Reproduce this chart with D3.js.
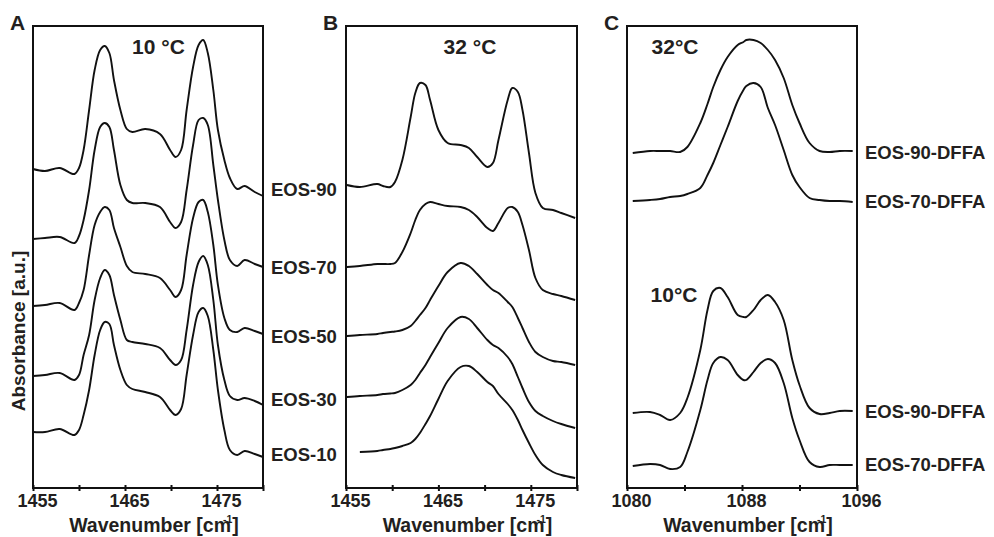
<!DOCTYPE html>
<html>
<head>
<meta charset="utf-8">
<script src="https://cdn.jsdelivr.net/npm/d3@7"></script>
<style>
  body { margin: 0; background: #fff; }
  svg text { font-family: "Liberation Sans", Arial, sans-serif; font-weight: bold; fill: #231f20; }
</style>
</head>
<body>
<div id="vis"></div>
<script>
// ---- panel A : CH2 scissoring, 10 °C ----
const wnA = [1455, 1456.3, 1457.9, 1459.5, 1460.0, 1460.5, 1461.1, 1461.7, 1462.3, 1462.8, 1463.3,
  1463.8, 1464.5, 1465.2, 1465.8, 1467.2, 1468.8, 1469.9, 1470.5, 1471.1, 1471.7, 1472.4, 1473.0,
  1473.5, 1474.0, 1474.6, 1475.1, 1475.8, 1476.4, 1477.2, 1478.0, 1479.1, 1480.0];
const eos90A = [3.19, 3.17, 3.20, 3.14, 3.20, 3.38, 3.78, 4.18, 4.38, 4.42, 4.35, 4.08, 3.78, 3.59, 3.56, 3.59, 3.54,
  3.38, 3.31, 3.38, 3.78, 4.21, 4.43, 4.48, 4.35, 3.98, 3.58, 3.28, 3.10, 2.99, 3.02, 2.96, 2.92];
const eos70A = [2.49, 2.50, 2.51, 2.45, 2.52, 2.68, 2.98, 3.38, 3.61, 3.65, 3.61, 3.38, 3.03, 2.88, 2.85, 2.85, 2.81,
  2.66, 2.60, 2.66, 2.98, 3.43, 3.68, 3.70, 3.63, 3.23, 2.88, 2.48, 2.28, 2.22, 2.28, 2.24, 2.21];
const eos50A = [1.82, 1.83, 1.85, 1.78, 1.85, 1.98, 2.33, 2.63, 2.76, 2.81, 2.78, 2.60, 2.41, 2.22, 2.16, 2.14, 2.10,
  1.98, 1.91, 1.98, 2.33, 2.70, 2.86, 2.88, 2.76, 2.43, 2.03, 1.70, 1.58, 1.56, 1.60, 1.57, 1.54];
const eos30A = [1.12, 1.13, 1.15, 1.08, 1.13, 1.33, 1.53, 1.88, 2.10, 2.18, 2.13, 1.93, 1.68, 1.48, 1.46, 1.44, 1.40,
  1.28, 1.23, 1.28, 1.58, 2.03, 2.26, 2.32, 2.23, 1.88, 1.43, 1.08, 0.92, 0.88, 0.90, 0.87, 0.83];
const eos10A = [0.56, 0.56, 0.59, 0.53, 0.58, 0.73, 0.98, 1.33, 1.58, 1.66, 1.64, 1.43, 1.18, 1.03, 0.99, 0.96, 0.91,
  0.78, 0.73, 0.79, 1.13, 1.53, 1.76, 1.80, 1.72, 1.38, 0.98, 0.58, 0.38, 0.33, 0.37, 0.34, 0.31];

// ---- panel B : same band, 32 °C ----
const wnB = [1455.1, 1456.5, 1458.4, 1459.0, 1459.8, 1460.3, 1461.1, 1462.0, 1462.5, 1463.0, 1463.6, 1464.1,
  1465.0, 1466.0, 1467.4, 1468.3, 1469.2, 1470.3, 1470.9, 1471.5, 1472.5, 1473.0, 1473.6, 1474.1, 1474.8,
  1475.5, 1476.3, 1477.4, 1478.3, 1479.8];
const eos90B = [3.03, 3.01, 3.04, 3.02, 3.01, 3.06, 3.28, 3.71, 3.95, 4.05, 4.03, 3.88, 3.58, 3.45, 3.43, 3.40,
  3.31, 3.21, 3.25, 3.48, 3.88, 4.00, 3.96, 3.78, 3.35, 2.95, 2.80, 2.78, 2.75, 2.70];
const eos70B = [2.21, 2.22, 2.24, 2.24, 2.24, 2.25, 2.36, 2.55, 2.68, 2.78, 2.84, 2.86, 2.84, 2.82, 2.81, 2.78,
  2.71, 2.60, 2.57, 2.65, 2.80, 2.81, 2.76, 2.63, 2.38, 2.10, 1.98, 1.94, 1.92, 1.88];
const eos50B = [1.52, 1.53, 1.54, 1.55, 1.56, 1.565, 1.58, 1.62, 1.67, 1.73, 1.80, 1.88, 2.02, 2.16, 2.25, 2.22,
  2.14, 2.03, 1.98, 1.95, 1.86, 1.81, 1.70, 1.60, 1.46, 1.36, 1.31, 1.27, 1.26, 1.23];
const eos30B = [0.91, 0.92, 0.93, 0.94, 0.945, 0.95, 0.98, 1.03, 1.08, 1.15, 1.23, 1.31, 1.45, 1.60, 1.71, 1.69,
  1.60, 1.48, 1.43, 1.40, 1.31, 1.24, 1.11, 1.00, 0.86, 0.77, 0.72, 0.67, 0.64, 0.60];
const eos10B = [null, 0.36, 0.37, 0.38, 0.39, 0.40, 0.42, 0.45, 0.49, 0.55, 0.64, 0.72, 0.89, 1.07, 1.21, 1.22,
  1.16, 1.06, 1.02, 0.94, 0.84, 0.78, 0.68, 0.58, 0.45, 0.33, 0.23, 0.16, 0.13, 0.10];

// ---- panel C : deuterated chains, 32 °C and 10 °C ----
const wnC = [1080.4, 1081.6, 1082.3, 1083.0, 1083.7, 1084.2, 1085.1, 1085.6, 1086.0, 1086.5, 1087.0, 1087.7,
  1088.1, 1088.3, 1088.8, 1089.3, 1089.8, 1090.3, 1090.9, 1091.5, 1092.0, 1092.7, 1093.4, 1094.1, 1094.8, 1095.7];
const dffa90Warm = [3.35, 3.37, 3.37, 3.37, 3.36, 3.41, 3.65, 3.84, 4.01, 4.18, 4.31, 4.43, 4.46, 4.48, 4.48,
  4.45, 4.38, 4.28, 4.10, 3.83, 3.65, 3.45, 3.37, 3.36, 3.37, 3.37];
const dffa70Warm = [2.87, 2.88, 2.89, 2.91, 2.92, 2.94, 3.00, 3.13, 3.25, 3.43, 3.61, 3.87, 3.98, 4.02, 4.05,
  4.01, 3.80, 3.63, 3.38, 3.13, 3.01, 2.90, 2.88, 2.87, 2.87, 2.86];
const dffa90Cold = [0.75, 0.76, 0.73, 0.68, 0.75, 0.90, 1.38, 1.78, 1.97, 2.00, 1.91, 1.73, 1.71, 1.71, 1.78,
  1.88, 1.93, 1.86, 1.68, 1.28, 1.03, 0.80, 0.74, 0.75, 0.77, 0.77];
const dffa70Cold = [0.22, 0.24, 0.23, 0.19, 0.21, 0.36, 0.78, 1.08, 1.25, 1.31, 1.28, 1.13, 1.08, 1.08, 1.16,
  1.25, 1.29, 1.25, 1.05, 0.70, 0.48, 0.26, 0.21, 0.23, 0.23, 0.23];

// tick values and labels
const ticksAB = [1455, 1460, 1465, 1470, 1475, 1480];
const labelsAB = [1455, 1465, 1475];
const ticksC = [1080, 1084, 1088, 1092, 1096];
const labelsC = [1080, 1088, 1096];

// series names and where (in a.u.) their label sits
const namesA = ["EOS-90", "EOS-70", "EOS-50", "EOS-30", "EOS-10"];
const nameLevelsA = [2.99, 2.21, 1.52, 0.89, 0.34];
const namesC = ["EOS-90-DFFA", "EOS-70-DFFA", "EOS-90-DFFA", "EOS-70-DFFA"];
const nameLevelsC = [3.36, 2.87, 0.77, 0.24];

const W = 994, H = 537;
const plotTop = 26, plotBottom = 488;

let svg = d3.select("#vis").append("svg")
    .attr("width", W)
    .attr("height", H);

let y = d3.scaleLinear().domain([0, 4.62]).range([plotBottom, plotTop]);

function drawPanel(p){
    let x = d3.scaleLinear().domain(p.domain).range([p.left, p.right]);
    let g = svg.append("g");

    let line = d3.line()
        .defined(d => d[1] != null)
        .x(d => x(d[0]))
        .y(d => y(d[1]))
        .curve(d3.curveCatmullRom.alpha(0.5));

    g.selectAll("path.spec")
        .data(p.series)
        .enter().append("path")
        .attr("class", "spec")
        .attr("d", s => line(d3.zip(p.wn, s)))
        .attr("fill", "none")
        .attr("stroke", "#111")
        .attr("stroke-width", 1.9)
        .attr("stroke-linejoin", "round");

    // frame
    g.append("rect")
        .attr("x", p.left)
        .attr("y", plotTop)
        .attr("width", p.right - p.left)
        .attr("height", plotBottom - plotTop)
        .attr("fill", "none")
        .attr("stroke", "#111")
        .attr("stroke-width", 2);

    let ax = g.append("g")
        .attr("transform", "translate(0," + plotBottom + ")")
        .call(d3.axisBottom(x)
            .tickValues(p.ticks)
            .tickSize(3)
            .tickFormat(d => p.labels.includes(d) ? d : ""));
    ax.attr("font-size", null).attr("font-family", null);
    ax.select(".domain").remove();
    ax.selectAll(".tick line")
        .attr("y1", -3)
        .attr("y2", 3)
        .attr("stroke", "#111")
        .attr("stroke-width", 2);
    ax.selectAll(".tick text")
        .attr("x", 4)
        .attr("y", 18.7)
        .attr("dy", null)
        .style("font-size", "18px");

    // x axis title with the superscript sitting over the "m"
    let t = g.append("text")
        .attr("x", (p.left + p.right) / 2 + 6)
        .attr("y", 532)
        .attr("text-anchor", "middle")
        .style("font-size", "19.5px")
        .text("Wavenumber [cm");
    t.append("tspan").attr("dx", -8).attr("dy", -9.5).style("font-size", "10.5px").text("-1");
    t.append("tspan").attr("dy", 9.5).text("]");

    // panel letter
    g.append("text")
        .attr("x", p.left - 23)
        .attr("y", 30)
        .style("font-size", "21px")
        .text(p.letter);

    p.temps.forEach(tp => {
        g.append("text")
            .attr("x", p.left + tp.dx)
            .attr("y", tp.y)
            .attr("text-anchor", "middle")
            .style("font-size", "21px")
            .text(tp.text);
    });

    if(p.names){
        g.selectAll("text.name")
            .data(p.names)
            .enter().append("text")
            .attr("class", "name")
            .attr("x", p.right + 8)
            .attr("y", (d, i) => y(p.nameLevels[i]))
            .attr("dy", "0.36em")
            .style("font-size", "18.5px")
            .text(d => d);
    }
}

drawPanel({
    letter: "A", left: 33, right: 263, domain: [1455, 1480],
    ticks: ticksAB, labels: labelsAB, wn: wnA,
    series: [eos90A, eos70A, eos50A, eos30A, eos10A],
    temps: [{text: "10 °C", dx: 125.5, y: 54}],
    names: namesA, nameLevels: nameLevelsA
});
drawPanel({
    letter: "B", left: 346, right: 577, domain: [1455, 1480],
    ticks: ticksAB, labels: labelsAB, wn: wnB,
    series: [eos90B, eos70B, eos50B, eos30B, eos10B],
    temps: [{text: "32 °C", dx: 124, y: 53.5}]
});
drawPanel({
    letter: "C", left: 627, right: 857, domain: [1080, 1096],
    ticks: ticksC, labels: labelsC, wn: wnC,
    series: [dffa90Warm, dffa70Warm, dffa90Cold, dffa70Cold],
    temps: [{text: "32°C", dx: 48, y: 54}, {text: "10°C", dx: 47, y: 302}],
    names: namesC, nameLevels: nameLevelsC
});

// shared y title
svg.append("text")
    .attr("transform", "translate(25,331) rotate(-90)")
    .attr("text-anchor", "middle")
    .style("font-size", "19px")
    .text("Absorbance [a.u.]");
</script>
</body>
</html>
